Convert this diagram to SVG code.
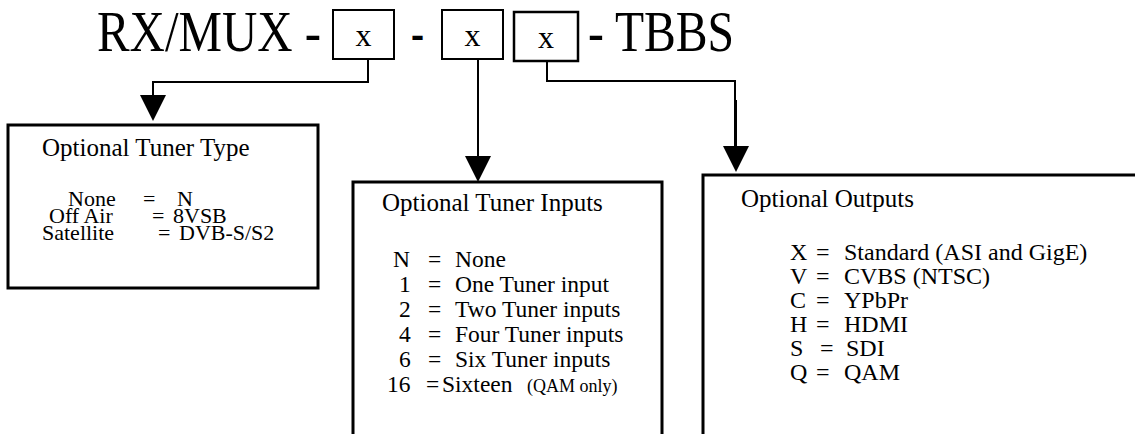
<svg xmlns="http://www.w3.org/2000/svg" width="1135" height="434" viewBox="0 0 1135 434" font-family="'Liberation Serif', 'Times New Roman', 'DejaVu Serif', serif">
<style>
text{font-family:'Liberation Serif','Times New Roman','DejaVu Serif',serif;fill:#000}
.title{font-size:56px}
.bx{font-size:32px}
.hd{font-size:25px}
.h{font-size:23.5px}
.o{font-size:24px}
.t{font-size:22px}
.sm{font-size:18px}
.box{fill:#fff;stroke:#000;stroke-width:3}
.sel{fill:#fff;stroke:#000;stroke-width:2}
.ln{fill:none;stroke:#000;stroke-width:2}
</style>
<defs>
<path id="ah" d="M-13,0 L13,0 L0,26 Z" fill="#000"/>
</defs>
<rect width="1135" height="434" fill="#fff"/>
<g id="code">
<text class="title" x="97" y="51" textLength="224" lengthAdjust="spacingAndGlyphs">RX/MUX -</text>
<text class="title" x="411" y="51" textLength="13" lengthAdjust="spacingAndGlyphs">-</text>
<text class="title" x="588" y="51" textLength="146" lengthAdjust="spacingAndGlyphs">- TBBS</text>
</g>
<g id="sel1"><rect class="sel" x="333" y="10" width="61" height="49"/><text class="bx" x="363.5" y="46" text-anchor="middle">x</text></g>
<g id="sel2"><rect class="sel" x="442" y="10" width="61" height="49"/><text class="bx" x="472.5" y="46" text-anchor="middle">x</text></g>
<g id="sel3"><rect class="sel" x="514" y="12" width="64" height="49" style="stroke-width:2.5"/><text class="bx" x="546" y="48" text-anchor="middle">x</text></g>
<g id="connectors">
<polyline class="ln" points="368,59 368,82 153,82 153,96"/>
<use href="#ah" x="153" y="95"/>
<polyline class="ln" points="478,59 478,158"/>
<use href="#ah" x="478" y="156"/>
<polyline class="ln" points="547,61 547,81 735,81 735,146"/>
<line class="ln" x1="735.5" y1="100" x2="735.5" y2="146" style="stroke-width:3"/>
<use href="#ah" x="736" y="146"/>
</g>
<g id="tuner-type">
<rect class="box" x="8" y="125" width="310" height="163"/>
<text class="hd" x="42" y="156">Optional Tuner Type</text>
<text class="t" x="68" y="206">None</text><text class="t" x="143" y="206">=</text><text class="t" x="177" y="206">N</text>
<text class="t" x="49" y="223">Off Air</text><text class="t" x="152" y="223">=</text><text class="t" x="173" y="223">8VSB</text>
<text class="t" x="42" y="240">Satellite</text><text class="t" x="158" y="240">=</text><text class="t" x="179" y="240">DVB-S/S2</text>
</g>
<g id="tuner-inputs">
<path class="box" d="M353,436 V182 H662 V436"/>
<text class="hd" x="382" y="211">Optional Tuner Inputs</text>
<text class="h" x="393" y="267">N</text><text class="h" x="428" y="267">=</text><text class="h" x="455" y="267">None</text>
<text class="h" x="399" y="292">1</text><text class="h" x="428" y="292">=</text><text class="h" x="455" y="292">One Tuner input</text>
<text class="h" x="399" y="317">2</text><text class="h" x="428" y="317">=</text><text class="h" x="455" y="317">Two Tuner inputs</text>
<text class="h" x="399" y="342">4</text><text class="h" x="428" y="342">=</text><text class="h" x="455" y="342">Four Tuner inputs</text>
<text class="h" x="399" y="367">6</text><text class="h" x="428" y="367">=</text><text class="h" x="455" y="367">Six Tuner inputs</text>
<text class="h" x="387" y="392">16</text><text class="h" x="426" y="392">=</text><text class="h" x="442" y="392">Sixteen</text><text class="sm" x="527" y="392">(QAM only)</text>
</g>
<g id="outputs">
<path class="box" d="M703,436 V175 H1137"/>
<text class="hd" x="741" y="207">Optional Outputs</text>
<text class="o" x="790" y="260">X</text><text class="o" x="816" y="260">=</text><text class="o" x="844" y="260">Standard (ASI and GigE)</text>
<text class="o" x="790" y="284">V</text><text class="o" x="816" y="284">=</text><text class="o" x="844" y="284">CVBS (NTSC)</text>
<text class="o" x="790" y="308">C</text><text class="o" x="816" y="308">=</text><text class="o" x="844" y="308">YPbPr</text>
<text class="o" x="790" y="332">H</text><text class="o" x="816" y="332">=</text><text class="o" x="844" y="332">HDMI</text>
<text class="o" x="790" y="356">S</text><text class="o" x="820" y="356">=</text><text class="o" x="846" y="356">SDI</text>
<text class="o" x="790" y="380">Q</text><text class="o" x="816" y="380">=</text><text class="o" x="844" y="380">QAM</text>
</g>
</svg>
